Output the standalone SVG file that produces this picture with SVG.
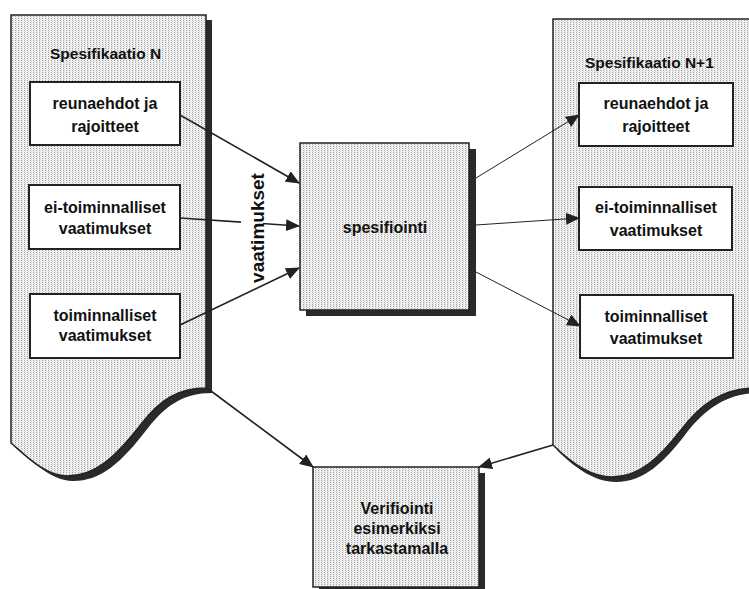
<svg xmlns="http://www.w3.org/2000/svg" width="749" height="589" viewBox="0 0 749 589">
  <defs>
    <pattern id="dots" width="3" height="2" patternUnits="userSpaceOnUse">
      <rect width="3" height="2" fill="#f4f4f4"/>
      <rect x="0" y="0" width="1" height="1" fill="#a0a0a0"/>
      <rect x="1" y="1" width="1" height="1" fill="#d8d8d8"/>
    </pattern>
    <marker id="ah" viewBox="0 0 14 12" refX="13" refY="6" markerWidth="14" markerHeight="12" markerUnits="userSpaceOnUse" orient="auto">
      <path d="M0,0 L14,6 L0,12 Z" fill="#222"/>
    </marker>
  </defs>
  <style>
    .doc { fill: url(#dots); stroke: #222; stroke-width: 1.5; }
    .shadow { fill: #2a2a2a; }
    .box { fill: #fff; stroke: #222; stroke-width: 2; }
    .pbox { fill: url(#dots); stroke: #222; stroke-width: 1.5; }
    .t { font-family: "Liberation Sans", Arial, sans-serif; font-weight: bold; font-size: 16px; fill: #111; text-anchor: middle; }
    .title { font-family: "Liberation Sans", Arial, sans-serif; font-weight: bold; font-size: 15.5px; fill: #111; }
    .c1 { stroke: #222; stroke-width: 1.6; fill: none; marker-end: url(#ah); }
    .c2 { stroke: #222; stroke-width: 1; fill: none; marker-end: url(#ah); }
  </style>
  <rect width="749" height="589" fill="#fff"/>

  <g id="spec-n">
    <path class="shadow" transform="translate(6,5)" d="M11,15 H206 V388 C178,388 160,400 142,423 C115,458 95,476 67,476 C45,476 25,455 11,443 Z"/>
    <path class="doc" d="M11,15 H206 V388 C178,388 160,400 142,423 C115,458 95,476 67,476 C45,476 25,455 11,443 Z"/>
    <text class="title" x="50" y="59">Spesifikaatio N</text>
  </g>

  <g id="spec-n1">
    <path class="shadow" transform="translate(4,5)" d="M553,19 H755 V388 C722,388 700,405 681,430 C660,457 640,477 612,477 C590,477 570,462 553,445 Z"/>
    <path class="doc" d="M553,19 H755 V388 C722,388 700,405 681,430 C660,457 640,477 612,477 C590,477 570,462 553,445 Z"/>
    <text class="title" x="585" y="68">Spesifikaatio N+1</text>
  </g>

  <g id="n-reunaehdot">
    <rect class="box" x="30" y="82" width="150" height="63"/>
    <text class="t" x="105" y="109">reunaehdot ja</text>
    <text class="t" x="105" y="132">rajoitteet</text>
  </g>
  <g id="n-ei-toiminnalliset">
    <rect class="box" x="29" y="185" width="151" height="64"/>
    <text class="t" x="105" y="213">ei-toiminnalliset</text>
    <text class="t" x="105" y="234">vaatimukset</text>
  </g>
  <g id="n-toiminnalliset">
    <rect class="box" x="30" y="294" width="150" height="64"/>
    <text class="t" x="105" y="321">toiminnalliset</text>
    <text class="t" x="105" y="341">vaatimukset</text>
  </g>

  <g id="n1-reunaehdot">
    <rect class="box" x="579" y="83" width="154" height="63"/>
    <text class="t" x="656" y="109">reunaehdot ja</text>
    <text class="t" x="656" y="132">rajoitteet</text>
  </g>
  <g id="n1-ei-toiminnalliset">
    <rect class="box" x="579" y="187" width="153" height="63"/>
    <text class="t" x="656" y="213">ei-toiminnalliset</text>
    <text class="t" x="656" y="236">vaatimukset</text>
  </g>
  <g id="n1-toiminnalliset">
    <rect class="box" x="580" y="295" width="153" height="63"/>
    <text class="t" x="656" y="322">toiminnalliset</text>
    <text class="t" x="656" y="344">vaatimukset</text>
  </g>

  <g id="spesifiointi">
    <rect class="shadow" x="306" y="149" width="170" height="167"/>
    <rect class="pbox" x="300" y="143" width="169" height="167"/>
    <text class="t" x="385" y="233">spesifiointi</text>
  </g>

  <g id="verifiointi">
    <rect class="shadow" x="319" y="473" width="166" height="116"/>
    <rect class="pbox" x="313" y="467" width="166" height="120"/>
    <text class="t" x="397" y="514">Verifiointi</text>
    <text class="t" x="397" y="534">esimerkiksi</text>
    <text class="t" x="397" y="554">tarkastamalla</text>
  </g>

  <g id="connectors">
    <line class="c1" x1="180" y1="115" x2="299" y2="183"/>
    <line class="c1" x1="180" y1="218" x2="299" y2="226"/>
    <line class="c1" x1="180" y1="325" x2="299" y2="268"/>
    <line class="c2" x1="476" y1="178" x2="579" y2="115"/>
    <line class="c2" x1="476" y1="225" x2="579" y2="218"/>
    <line class="c2" x1="476" y1="272" x2="580" y2="326"/>
    <line class="c1" x1="207" y1="388" x2="313" y2="467"/>
    <line class="c1" x1="553" y1="445" x2="479" y2="467"/>
    <rect x="241" y="216" width="22" height="12" fill="#fff"/>
    <text transform="translate(264,228) rotate(-90)" style="font-family:'Liberation Sans',Arial,sans-serif;font-weight:bold;font-size:19px;fill:#111;text-anchor:middle">vaatimukset</text>
  </g>
</svg>
